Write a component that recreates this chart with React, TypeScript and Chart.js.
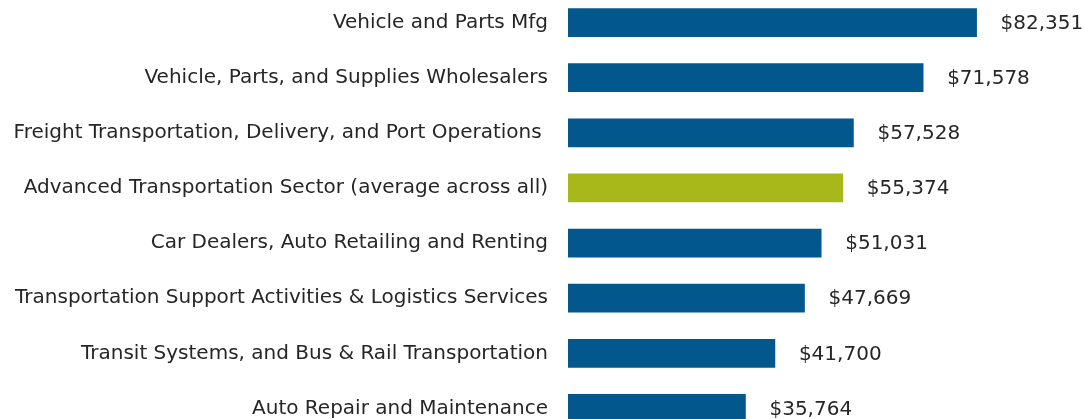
import React, { useEffect, useRef } from "react";
import { Chart, registerables } from "chart.js";

Chart.register(...registerables);

const categories = [
  "Vehicle and Parts Mfg",
  "Vehicle, Parts, and Supplies Wholesalers",
  "Freight Transportation, Delivery, and Port Operations ",
  "Advanced Transportation Sector (average across all)",
  "Car Dealers, Auto Retailing and Renting",
  "Transportation Support Activities & Logistics Services",
  "Transit Systems, and Bus & Rail Transportation",
  "Auto Repair and Maintenance",
];

const wages = [82351, 71578, 57528, 55374, 51031, 47669, 41700, 35764];

const highlight = [false, false, false, true, false, false, false, false];

const BLUE = "#02578D";
const GREEN = "#A6B81A";
const FONT = "'DejaVu Sans', sans-serif";
const TEXT = "#262626";

const fmt = (v: number) => "$" + v.toLocaleString("en-US");

const valueLabels = {
  id: "valueLabels",
  afterDatasetsDraw(chart: any) {
    const ctx = chart.ctx;
    const meta = chart.getDatasetMeta(0);
    ctx.save();
    ctx.font = `20px ${FONT}`;
    ctx.fillStyle = TEXT;
    ctx.textAlign = "left";
    ctx.textBaseline = "middle";
    meta.data.forEach((bar: any, i: number) => {
      ctx.fillText(fmt(wages[i]), bar.x + 24, bar.y + 1);
    });
    ctx.restore();
  },
};

export default function App() {
  const ref = useRef<HTMLCanvasElement>(null);
  useEffect(() => {
    if (!ref.current) return;
    const chart = new Chart(ref.current, {
      type: "bar",
      data: {
        labels: categories,
        datasets: [
          {
            data: wages,
            backgroundColor: highlight.map((h) => (h ? GREEN : BLUE)),
            barThickness: 28,
            borderWidth: 0,
          },
        ],
      },
      options: {
        indexAxis: "y",
        animation: false,
        responsive: false,
        maintainAspectRatio: false,
        layout: { padding: 0 },
        plugins: {
          legend: { display: false },
          tooltip: { enabled: false },
        },
        scales: {
          x: {
            display: false,
            min: 0,
            max: 104000,
          },
          y: {
            grid: { display: false, drawTicks: false },
            border: { display: false },
            ticks: {
              padding: 20,
              color: TEXT,
              font: { family: FONT, size: 20 },
              autoSkip: false,
            },
            afterFit(scale: any) {
              scale.width = 568;
              scale.paddingTop = 0;
              scale.paddingBottom = 0;
            },
          },
        },
      },
      plugins: [valueLabels],
    });
    return () => chart.destroy();
  }, []);

  return (
    <div style={{ position: "fixed", left: 0, top: 0, width: 1084, height: 419, overflow: "hidden", background: "#fff" }}>
      <div style={{ position: "absolute", left: 0, top: -5.5, width: 1084, height: 441 }}>
        <canvas ref={ref} width={1084} height={441} style={{ width: 1084, height: 441, display: "block" }} />
      </div>
    </div>
  );
}
